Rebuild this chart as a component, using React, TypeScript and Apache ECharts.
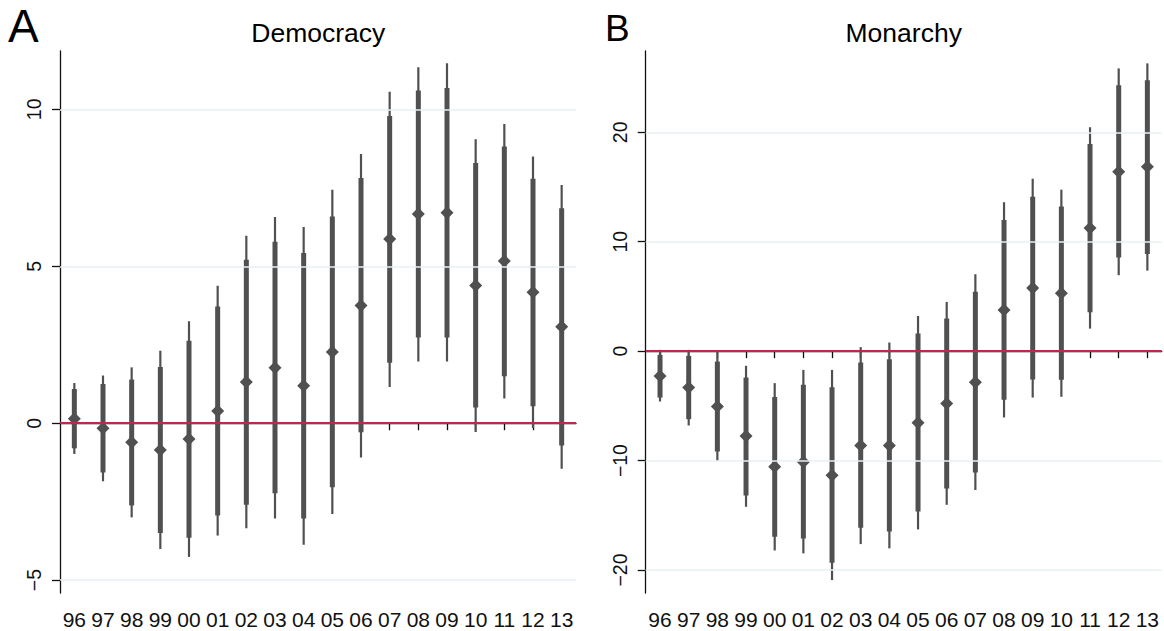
import React, { useEffect, useRef } from "react";
import * as echarts from "echarts";

const years = ["96", "97", "98", "99", "00", "01", "02", "03", "04", "05", "06", "07", "08", "09", "10", "11", "12", "13"];

const demEst = [0.14, -0.16, -0.61, -0.85, -0.5, 0.39, 1.31, 1.77, 1.19, 2.27, 3.75, 5.87, 6.67, 6.71, 4.39, 5.17, 4.17, 3.07];
const demHi95 = [1.28, 1.52, 1.78, 2.31, 3.25, 4.38, 5.97, 6.57, 6.25, 7.44, 8.58, 10.56, 11.34, 11.47, 9.05, 9.53, 8.5, 7.59];
const demHi90 = [1.09, 1.25, 1.39, 1.79, 2.63, 3.72, 5.21, 5.78, 5.42, 6.59, 7.81, 9.79, 10.6, 10.68, 8.29, 8.82, 7.79, 6.85];
const demLo90 = [-0.8, -1.57, -2.62, -3.5, -3.65, -2.94, -2.6, -2.23, -3.04, -2.04, -0.29, 1.93, 2.73, 2.73, 0.5, 1.5, 0.54, -0.71];
const demLo95 = [-0.98, -1.85, -3.0, -4.01, -4.26, -3.58, -3.35, -3.04, -3.87, -2.89, -1.09, 1.15, 1.97, 1.97, -0.28, 0.79, -0.15, -1.45];

const monEst = [-2.28, -3.32, -5.06, -7.76, -10.57, -10.14, -11.33, -8.62, -8.62, -6.55, -4.78, -2.83, 3.77, 5.78, 5.3, 11.26, 16.4, 16.86];
const monHi95 = [0.12, 0.12, -0.03, -1.34, -2.92, -1.71, -1.71, 0.37, 0.79, 3.22, 4.5, 7.03, 13.61, 15.76, 14.76, 20.46, 25.84, 26.3];
const monHi90 = [-0.34, -0.43, -0.95, -2.41, -4.2, -3.08, -3.29, -1.04, -0.73, 1.61, 2.98, 5.42, 11.99, 14.12, 13.21, 18.93, 24.29, 24.75];
const monLo90 = [-4.24, -6.21, -9.17, -13.19, -16.96, -17.11, -19.33, -16.14, -16.47, -14.65, -12.54, -11.08, -4.45, -2.59, -2.62, 3.56, 8.55, 8.89];
const monLo95 = [-4.6, -6.79, -10.02, -14.22, -18.21, -18.48, -20.92, -17.63, -18.02, -16.29, -14.04, -12.69, -6.06, -4.24, -4.17, 2.06, 6.94, 7.36];

const demTicks = [-5, 0, 5, 10];
const monTicks = [-20, -10, 0, 10, 20];

const FONT = "'Liberation Sans', Arial, Helvetica, sans-serif";
const BAR = "#505050";
const RED = "#c2254f";
const GRID = "#e8f0f2";

function ciData(lo95: number[], hi95: number[], lo90: number[], hi90: number[]) {
  return years.map((_, i) => [i, lo95[i], hi95[i], lo90[i], hi90[i]]);
}

function renderCI(params: any, api: any) {
  const x = api.value(0);
  const a = api.coord([x, api.value(1)]);
  const b = api.coord([x, api.value(2)]);
  const c = api.coord([x, api.value(3)]);
  const d = api.coord([x, api.value(4)]);
  return {
    type: "group",
    children: [
      { type: "line", shape: { x1: a[0], y1: a[1], x2: b[0], y2: b[1] }, style: { stroke: BAR, lineWidth: 2.2 } },
      { type: "line", shape: { x1: c[0], y1: c[1], x2: d[0], y2: d[1] }, style: { stroke: BAR, lineWidth: 5 } },
    ],
  };
}

function xAxis(gridIndex: number) {
  return {
    type: "category",
    gridIndex,
    data: years,
    boundaryGap: true,
    axisLine: { show: true, lineStyle: { color: "#111", width: 1.3 } },
    axisTick: { show: true, alignWithLabel: true, length: 7, lineStyle: { color: "#111", width: 1.3 } },
    axisLabel: { color: "#111", fontSize: 21, fontFamily: FONT, margin: 16, interval: 0 },
    splitLine: { show: false },
  };
}

function yAxis(gridIndex: number, min: number, max: number, ticks: number[]) {
  return {
    type: "value",
    gridIndex,
    min,
    max,
    axisLine: { show: true, lineStyle: { color: "#111", width: 1.3 } },
    axisTick: { show: true, length: 8, customValues: ticks, lineStyle: { color: "#111", width: 1.3 } },
    axisLabel: {
      customValues: ticks,
      rotate: 90,
      color: "#111",
      fontSize: 19.5,
      fontFamily: FONT,
      margin: 16,
      formatter: (v: number) => String(v).replace("-", "\u2212"),
    },
    splitLine: { show: false },
  };
}

function gridLines(idx: number, ticks: number[]) {
  return {
    type: "scatter",
    xAxisIndex: idx,
    yAxisIndex: idx,
    data: [],
    z: 1,
    silent: true,
    markLine: {
      silent: true,
      symbol: "none",
      label: { show: false },
      animation: false,
      data: [
        ...ticks.filter((t) => t !== 0).map((t) => ({ yAxis: t, lineStyle: { color: GRID, width: 1.5, type: "solid" } })),
        { yAxis: 0, lineStyle: { color: RED, width: 2, type: "solid" } },
      ],
    },
  };
}

export default function App() {
  const ref = useRef<HTMLDivElement>(null);
  useEffect(() => {
    if (!ref.current) return;
    const chart = echarts.init(ref.current, undefined, { renderer: "svg" });
    chart.setOption({
      animation: false,
      backgroundColor: "#ffffff",
      grid: [
        { left: 60, top: 51, width: 516, height: 542 },
        { left: 645.7, top: 51, width: 516, height: 542 },
      ],
      xAxis: [xAxis(0), xAxis(1)],
      yAxis: [yAxis(0, -5.41, 11.86, demTicks), yAxis(1, -22.1, 27.43, monTicks)],
      graphic: [
        { type: "text", x: 8, y: 25.5, style: { text: "A", font: `46px ${FONT}`, fill: "#000", textVerticalAlign: "middle" } },
        { type: "text", x: 605, y: 28, style: { text: "B", font: `37px ${FONT}`, fill: "#000", textVerticalAlign: "middle" } },
        { type: "text", x: 318.3, y: 33.3, style: { text: "Democracy", font: `26.5px ${FONT}`, fill: "#000", textAlign: "center", textVerticalAlign: "middle" } },
        { type: "text", x: 903.7, y: 33.3, style: { text: "Monarchy", font: `26.5px ${FONT}`, fill: "#000", textAlign: "center", textVerticalAlign: "middle" } },
      ],
      series: [
        gridLines(0, demTicks),
        gridLines(1, monTicks),
        {
          type: "custom",
          xAxisIndex: 0,
          yAxisIndex: 0,
          z: 3,
          renderItem: renderCI,
          encode: { x: 0, y: [1, 2, 3, 4] },
          data: ciData(demLo95, demHi95, demLo90, demHi90),
        },
        {
          type: "custom",
          xAxisIndex: 1,
          yAxisIndex: 1,
          z: 3,
          renderItem: renderCI,
          encode: { x: 0, y: [1, 2, 3, 4] },
          data: ciData(monLo95, monHi95, monLo90, monHi90),
        },
        {
          type: "scatter",
          xAxisIndex: 0,
          yAxisIndex: 0,
          z: 4,
          symbol: "diamond",
          symbolSize: 13,
          itemStyle: { color: BAR, opacity: 1 },
          data: years.map((_, i) => [i, demEst[i]]),
        },
        {
          type: "scatter",
          xAxisIndex: 1,
          yAxisIndex: 1,
          z: 4,
          symbol: "diamond",
          symbolSize: 13,
          itemStyle: { color: BAR, opacity: 1 },
          data: years.map((_, i) => [i, monEst[i]]),
        },
      ],
    });
    return () => chart.dispose();
  }, []);
  return <div ref={ref} style={{ position: "fixed", left: 0, top: 0, width: 1164, height: 631 }} />;
}
